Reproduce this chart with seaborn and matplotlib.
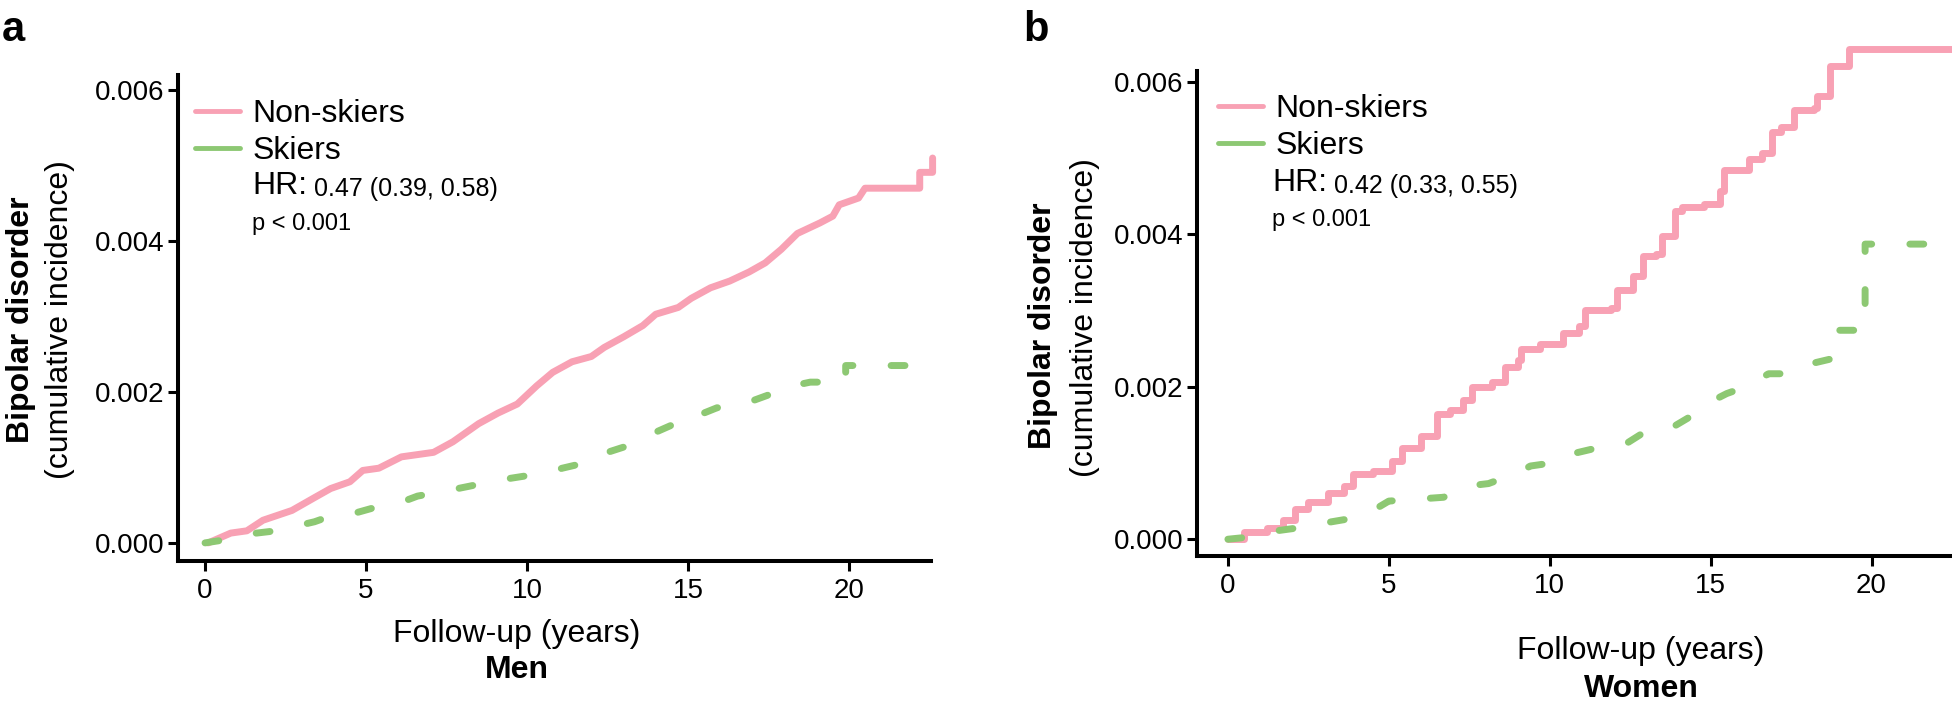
import matplotlib
matplotlib.use("Agg")
import matplotlib.pyplot as plt
from matplotlib.lines import Line2D
import seaborn as sns
import pandas as pd

# follow-up years / cumulative incidence (x 1e-5)
men_non_t = [0.1, 0.8, 1.3, 1.8, 2.7, 3.4, 3.9, 4.5, 4.9, 5.4,
             6.1, 7.1, 7.7, 8.5, 9.1, 9.7, 10.3, 10.8, 11.4, 12.0,
             12.4, 13.0, 13.6, 14.0, 14.7, 15.1, 15.7, 16.3, 16.9, 17.4,
             17.9, 18.4, 19.1, 19.5, 19.7, 20.3, 20.5, 22.2, 22.2, 22.6, 22.6]
men_non_y = [0, 13, 16, 30, 43, 60, 72, 81, 96, 99,
             114, 120, 134, 158, 172, 184, 208, 226, 240, 247,
             259, 273, 288, 303, 312, 324, 338, 347, 359, 371,
             389, 410, 424, 433, 448, 457, 470, 470, 491, 491, 510]

men_ski_t = [0, 0.6, 1.6, 2.2, 3.4, 3.8, 4.7, 5.2, 6.1, 6.6,
             7.5, 8.2, 9.1, 9.7, 10.6, 11.1, 12.0, 12.5, 13.3, 13.8,
             14.6, 14.8, 15.2, 15.9, 16.6, 17.5, 17.9, 18.8, 19.9, 19.9, 22.7]
men_ski_y = [0, 4, 13, 16, 28, 34, 40, 46, 54, 62,
             69, 75, 83, 87, 93, 99, 108, 120, 131, 143,
             158, 167, 167, 179, 182, 196, 205, 213, 213, 235, 235]

women_non_t = [0, 0.5, 1.2, 1.7, 2.1, 2.5, 3.1, 3.6, 3.9, 4.5,
               5.1, 5.4, 6.0, 6.5, 6.9, 7.3, 7.6, 8.2, 8.6, 9.0,
               9.1, 9.7, 10.4, 10.9, 11.1, 11.9, 12.1, 12.6, 12.9, 13.3,
               13.5, 13.9, 14.1, 14.8, 15.3, 15.4, 16.1, 16.2, 16.6, 16.9,
               17.2, 17.6, 18.2, 18.3, 18.7, 18.7, 19.2, 19.3, 22.9]
women_non_y = [0, 9, 15, 25, 40, 49, 61, 70, 85, 90,
               102, 120, 135, 164, 170, 182, 200, 206, 226, 235,
               250, 256, 271, 280, 300, 303, 327, 345, 372, 374,
               398, 430, 436, 439, 457, 484, 484, 498, 507, 534,
               540, 563, 566, 581, 596, 620, 620, 643, 643]

women_ski_t = [0, 0.7, 1.5, 2.2, 3.1, 3.8, 4.6, 5.0, 6.7, 7.5,
               8.1, 9.0, 9.4, 10.4, 10.8, 11.7, 12.4, 13.0, 13.7, 14.5,
               14.8, 15.5, 16.1, 16.8, 17.5, 18.2, 18.9, 18.9, 19.8, 19.8, 22.9]
women_ski_y = [0, 3, 11, 15, 22, 27, 40, 50, 55, 70,
               73, 87, 96, 102, 113, 122, 126, 142, 144, 164,
               176, 191, 200, 217, 217, 231, 238, 274, 274, 387, 387]

groups = ["Non-skiers", "Skiers"]
hr_text = ["0.47 (0.39, 0.58)", "0.42 (0.33, 0.55)"]
x_ticks = [0, 5, 10, 15, 20]
y_ticks = [0.0, 0.002, 0.004, 0.006]
y_tick_labels = ["0.000", "0.002", "0.004", "0.006"]

PINK = "#F8A1B4"
GREEN = "#8DC873"
W, H = 1952, 703


def fx(px):
    return px / W


def fy(py):
    return 1 - py / H


def draw_curve(ax, t, y, color, dashed, steps=False):
    df = pd.DataFrame({"t": t, "inc": [v * 1e-5 for v in y]})
    n = len(ax.lines)
    sns.lineplot(data=df, x="t", y="inc", ax=ax, color=color, linewidth=5,
                 estimator=None, sort=False,
                 drawstyle="steps-post" if steps else "default",
                 solid_capstyle="round", solid_joinstyle="round",
                 clip_on=False)
    if dashed:
        line = ax.lines[n]
        line.set_linestyle((0, (2.0, 5.5)))
        line.set_dash_capstyle("round")


def style_axes(ax, xlim, ylim):
    ax.set_xlim(*xlim)
    ax.set_ylim(*ylim)
    ax.set_xticks(x_ticks)
    ax.set_yticks(y_ticks)
    ax.set_yticklabels(y_tick_labels)
    ax.set_xlabel("")
    ax.set_ylabel("")
    for s in ["top", "right"]:
        ax.spines[s].set_visible(False)
    for s in ["left", "bottom"]:
        ax.spines[s].set_linewidth(2.9)
        ax.spines[s].set_color("black")
        ax.spines[s].set_capstyle("projecting")
    ax.tick_params(axis="both", length=7, width=2.2, labelsize=20,
                   direction="out", color="black", labelcolor="black")
    ax.tick_params(axis="y", pad=3)
    ax.tick_params(axis="x", pad=5)


sns.set_theme(style="ticks")
plt.rcParams["font.family"] = ["Liberation Sans", "DejaVu Sans"]
plt.rcParams["text.color"] = "black"

fig = plt.figure(figsize=(19.52, 7.03), dpi=100)
ax1 = fig.add_axes([fx(178), fy(561), fx(931 - 178), (561 - 75) / H])
ax2 = fig.add_axes([fx(1197), fy(556), fx(1952 - 1197), (556 - 71) / H])

draw_curve(ax1, men_non_t, men_non_y, PINK, False)
draw_curve(ax1, men_ski_t, men_ski_y, GREEN, True)
draw_curve(ax2, women_non_t, women_non_y, PINK, False, steps=True)
draw_curve(ax2, women_ski_t, women_ski_y, GREEN, True)

style_axes(ax1, (-0.84, 22.55), (-0.00024, 0.0062))
style_axes(ax2, (-0.96, 22.5), (-0.00022, 0.00614))

panels = [
    # ax, letter x, legend (x, top), text x, HR baseline, p baseline,
    # xlabel x, xlabel baseline, title baseline,
    # bold ylabel (x, y), ylabel line 2 (x, y), title
    (ax1, 2, 195, 99, 252, 194, 230, 517, 642, 678, 21, 320, 60, 320, "Men"),
    (ax2, 1023, 1218, 94, 1272, 191, 226, 1641, 659, 697, 1043, 326, 1085, 318, "Women"),
]

for i, (ax, lx, gx, gy, tx, hry, py, xlx, xly, tly,
        b1x, b1y, b2x, b2y, title) in enumerate(panels):
    fig.text(fx(lx), fy(41), "ab"[i], fontsize=30, fontweight="bold",
             ha="left", va="baseline")
    handles = [Line2D([], [], color=PINK, lw=3.5),
               Line2D([], [], color=GREEN, lw=3.5)]
    ax.legend(handles, groups, loc="upper left",
              bbox_to_anchor=(fx(gx), fy(gy)), bbox_transform=fig.transFigure,
              frameon=False, fontsize=23, handlelength=1.4,
              handletextpad=0.4, labelspacing=0.22, borderpad=0,
              borderaxespad=0, labelcolor="black")
    t1 = fig.text(fx(tx), fy(hry), "HR:", fontsize=23, va="baseline")
    ax.annotate(" " + hr_text[i], xy=(1, 0), xycoords=t1, fontsize=18,
                va="bottom", ha="left", color="black")
    fig.text(fx(tx), fy(py), "p < 0.001", fontsize=17, va="baseline")
    fig.text(fx(xlx), fy(xly), "Follow-up (years)", fontsize=23,
             ha="center", va="baseline")
    fig.text(fx(xlx), fy(tly), title, fontsize=23, fontweight="bold",
             ha="center", va="baseline")
    fig.text(fx(b1x), fy(b1y), "Bipolar disorder", fontsize=23,
             fontweight="bold", rotation=90, ha="center", va="center")
    fig.text(fx(b2x), fy(b2y), "(cumulative incidence)", fontsize=23,
             rotation=90, ha="center", va="center")

fig.savefig("out.png", dpi=100)
